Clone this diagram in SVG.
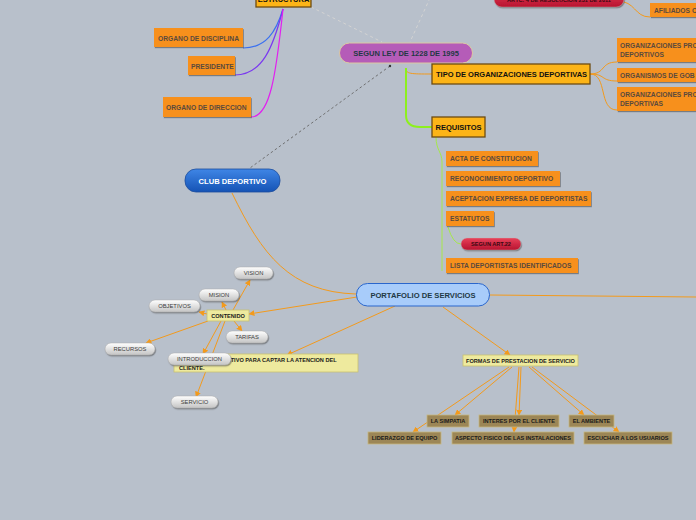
<svg xmlns="http://www.w3.org/2000/svg" width="696" height="520" viewBox="0 0 696 520">
<defs>
<linearGradient id="gGray" x1="0" y1="0" x2="0" y2="1"><stop offset="0" stop-color="#ffffff"/><stop offset="1" stop-color="#c4c4c4"/></linearGradient>
<linearGradient id="gRed" x1="0" y1="0" x2="0" y2="1"><stop offset="0" stop-color="#e8405a"/><stop offset="1" stop-color="#b8142f"/></linearGradient>
<linearGradient id="gBlue" x1="0" y1="0" x2="0" y2="1"><stop offset="0" stop-color="#3f86e6"/><stop offset="1" stop-color="#1553b5"/></linearGradient>
<filter id="sh" x="-10%" y="-20%" width="120%" height="150%"><feDropShadow dx="0.8" dy="1.2" stdDeviation="0.6" flood-color="#444" flood-opacity="0.55"/></filter>
<marker id="ar" viewBox="0 0 10 10" refX="9" refY="5" markerWidth="6" markerHeight="6" orient="auto" markerUnits="userSpaceOnUse"><path d="M0,0 L10,5 L0,10 z" fill="#f39a1c"/></marker>
<style>
text{font-family:"Liberation Sans",Arial,sans-serif;font-weight:bold}
.or rect{fill:#f7901f;filter:url(#sh)}
.or text{fill:#5a4a3e;font-size:6.7px}
.gold rect{fill:#fcb417;stroke:#6e4c12;stroke-width:1.3}
.gold text{fill:#111;font-size:7.5px}
.gr rect{fill:url(#gGray);stroke:#a8a8a8;stroke-width:0.5;filter:url(#sh)}
.gr text{fill:#3c3c3c;font-size:5.8px;font-weight:normal;text-anchor:middle}
.ye rect{fill:#eeea9e;stroke:#c9c070;stroke-width:0.8}
.ye text{fill:#1a1a1a;font-size:5.6px}
.br rect{fill:#9c8656;stroke:#c7b77f;stroke-width:0.8}
.br text{fill:#1a1a1a;font-size:5.6px;text-anchor:middle}
.rd rect{fill:url(#gRed);stroke:#c0b0b0;stroke-width:0.4;filter:url(#sh)}
.rd text{fill:#3a0810;font-size:5.6px;text-anchor:middle}
.ln{fill:none;stroke:#f39a1c;stroke-width:1}
.arw{fill:none;stroke:#f39a1c;stroke-width:1;marker-end:url(#ar)}
</style>
</defs>
<rect width="696" height="520" fill="#b8c0cb"/>

<g id="connectors">
<path d="M311,7 L382,42" stroke="#d3d3d3" stroke-width="1" stroke-dasharray="3,3" fill="none"/>
<path d="M430,-2 L410,42" stroke="#d3d3d3" stroke-width="1" stroke-dasharray="3,3" fill="none"/>
<path d="M390,66 L250,168" stroke="#666" stroke-width="0.9" stroke-dasharray="2.5,2.5" fill="none"/>
<circle cx="390" cy="66" r="1.2" fill="#333"/>
<path d="M283,9 C276,32 266,48 243,48" stroke="#3a70f0" stroke-width="1.2" fill="none"/>
<path d="M283,9 C273,48 262,75 235,75" stroke="#7a38f0" stroke-width="1.2" fill="none"/>
<path d="M283,9 C276,75 270,117 251,117" stroke="#e21ef0" stroke-width="1.2" fill="none"/>
<path d="M617,1 C636,1 634,17 650,17" class="ln"/>
<path d="M406,68 C406,74 410,74 432,74" class="ln"/>
<path d="M406,68 L406,115 Q406,127 420,127 L432,127" stroke="#8df01e" stroke-width="2" fill="none"/>
<path d="M590,74 C606,74 600,62 617,62" class="ln"/>
<path d="M590,74 C606,74 600,81 617,81" class="ln"/>
<path d="M590,74 C608,74 598,110 617,110" class="ln"/>
<path d="M436,137 C436,150 442,152 442,162 L442,271" stroke="#a6e84a" stroke-width="1" fill="none"/>
<path d="M448,227 Q453,244 461,244" stroke="#a6e84a" stroke-width="1" fill="none"/>
<path d="M232,193 C262,255 290,292 356,294" class="ln"/>
<path d="M490,295 L696,297" class="ln"/>
<path d="M357,297 L249,314" class="arw"/>
<path d="M395,306 L287,355" class="arw"/>
<path d="M443,307 L510,355" class="arw"/>
<path d="M233,310 L250,280" class="arw"/>
<path d="M226,310 L222,302" class="arw"/>
<path d="M207,314 L199,312" class="arw"/>
<path d="M234,321 L242,331" class="arw"/>
<path d="M208,321 L146,343" class="arw"/>
<path d="M221,321 L203,354" class="arw"/>
<path d="M225,321 L196,397" class="arw"/>
<path d="M512,367 L455,415" class="arw"/>
<path d="M509,367 L413,432" class="arw"/>
<path d="M521,367 L519,415" class="arw"/>
<path d="M519,367 L514,432" class="arw"/>
<path d="M529,367 L584,415" class="arw"/>
<path d="M532,367 L619,432" class="arw"/>
</g>

<g id="estructura" class="gold"><rect x="256" y="-10" width="55" height="17"/><text x="283.5" y="2" text-anchor="middle">ESTRUCTURA</text></g>
<g id="resolucion" class="rd"><rect x="494" y="-12" width="130" height="19" rx="8"/><text x="559" y="1.5">ARTC. 4 DE RESOLUCION 231 DE 2011</text></g>
<g id="afiliados" class="or"><rect x="650" y="3" width="60" height="14"/><text x="654" y="12.5">AFILIADOS C</text></g>

<g id="segunley"><rect x="339.5" y="43" width="133" height="20" rx="10" fill="#b55cb8" stroke="#dcc8a2" stroke-width="1"/><text x="406" y="56" text-anchor="middle" font-size="7.5" fill="#1f3944">SEGUN LEY DE 1228 DE 1995</text></g>

<g id="disciplina" class="or"><rect x="154" y="28" width="89" height="19"/><text x="158" y="40.5">ORGANO DE DISCIPLINA</text></g>
<g id="presidente" class="or"><rect x="188" y="56" width="47" height="19"/><text x="191" y="68.5">PRESIDENTE</text></g>
<g id="direccion" class="or"><rect x="163" y="97" width="88" height="20"/><text x="166" y="109.5">ORGANO DE DIRECCION</text></g>

<g id="tipo" class="gold"><rect x="432" y="64" width="158" height="20"/><text x="436" y="77">TIPO DE ORGANIZACIONES DEPORTIVAS</text></g>
<g id="org1" class="or"><rect x="617" y="38" width="90" height="24"/><text x="620" y="47.5">ORGANIZACIONES PRO</text><text x="620" y="57">DEPORTIVOS</text></g>
<g id="org2" class="or"><rect x="617" y="68" width="90" height="14"/><text x="620" y="77.5">ORGANISMOS DE GOB</text></g>
<g id="org3" class="or"><rect x="617" y="87" width="90" height="24"/><text x="620" y="96.5">ORGANIZACIONES PRO</text><text x="620" y="106">DEPORTIVAS</text></g>

<g id="requisitos" class="gold"><rect x="432" y="117" width="53" height="20"/><text x="435.5" y="130">REQUISITOS</text></g>
<g id="acta" class="or"><rect x="446" y="151" width="92" height="15"/><text x="450" y="161">ACTA DE CONSTITUCION</text></g>
<g id="reconocimiento" class="or"><rect x="446" y="171" width="114" height="15"/><text x="450" y="181">RECONOCIMIENTO DEPORTIVO</text></g>
<g id="aceptacion" class="or"><rect x="446" y="191" width="145" height="15"/><text x="450" y="201">ACEPTACION EXPRESA DE DEPORTISTAS</text></g>
<g id="estatutos" class="or"><rect x="446" y="211" width="48" height="15"/><text x="450" y="221">ESTATUTOS</text></g>
<g id="art22" class="rd"><rect x="461" y="238" width="60" height="12" rx="6"/><text x="491" y="246">SEGUN ART.22</text></g>
<g id="lista" class="or"><rect x="446" y="258" width="132" height="15"/><text x="450" y="268">LISTA DEPORTISTAS IDENTIFICADOS</text></g>

<g id="club"><rect x="185" y="169" width="95" height="23" rx="11" fill="url(#gBlue)" stroke="#1d4c9c" stroke-width="0.8"/><text x="232.5" y="183.5" text-anchor="middle" font-size="7.6" fill="#ffffff">CLUB DEPORTIVO</text></g>

<g id="portafolio"><rect x="356.5" y="283.5" width="133" height="22.5" rx="11" fill="#a8ccfa" stroke="#2a66cc" stroke-width="1"/><text x="423" y="297.5" text-anchor="middle" font-size="7.6" fill="#1f3944">PORTAFOLIO DE SERVICIOS</text></g>

<g id="vision" class="gr"><rect x="234" y="267" width="39" height="12" rx="6"/><text x="253.5" y="275.3">VISION</text></g>
<g id="mision" class="gr"><rect x="199" y="289" width="40" height="12" rx="6"/><text x="219" y="297.3">MISION</text></g>
<g id="objetivos" class="gr"><rect x="149" y="300" width="51" height="12" rx="6"/><text x="174.5" y="308.3">OBJETIVOS</text></g>
<g id="tarifas" class="gr"><rect x="226" y="331" width="42" height="12" rx="6"/><text x="247" y="339.3">TARIFAS</text></g>
<g id="recursos" class="gr"><rect x="105" y="343" width="50" height="12" rx="6"/><text x="130" y="351.3">RECURSOS</text></g>

<g id="elemento" class="ye"><rect x="174" y="354" width="184" height="18"/><text x="179" y="362">ELEMENTO LLAMATIVO PARA CAPTAR LA ATENCION DEL</text><text x="179" y="369.5">CLIENTE.</text></g>
<g id="introduccion" class="gr"><rect x="168" y="353" width="63" height="12" rx="6"/><text x="199.5" y="361.3">INTRODUCCION</text></g>
<g id="servicio" class="gr"><rect x="171" y="396" width="47" height="12" rx="6"/><text x="194.5" y="404.3">SERVICIO</text></g>

<g id="contenido" class="ye"><rect x="207" y="310" width="42" height="11"/><text x="228" y="317.8" text-anchor="middle">CONTENIDO</text></g>

<g id="formas" class="ye"><rect x="463" y="355" width="115" height="11"/><text x="520.5" y="362.8" text-anchor="middle">FORMAS DE PRESTACION DE SERVICIO</text></g>
<g id="simpatia" class="br"><rect x="427" y="415" width="42" height="12"/><text x="448" y="423">LA SIMPATIA</text></g>
<g id="interes" class="br"><rect x="479" y="415" width="80" height="12"/><text x="519" y="423">INTERES POR EL CLIENTE</text></g>
<g id="ambiente" class="br"><rect x="569" y="415" width="45" height="12"/><text x="591.5" y="423">EL AMBIENTE</text></g>
<g id="liderazgo" class="br"><rect x="368" y="432" width="73" height="12"/><text x="404.5" y="440">LIDERAZGO DE EQUIPO</text></g>
<g id="aspecto" class="br"><rect x="452" y="432" width="122" height="12"/><text x="513" y="440">ASPECTO FISICO DE LAS INSTALACIONES</text></g>
<g id="escuchar" class="br"><rect x="584" y="432" width="88" height="12"/><text x="628" y="440">ESCUCHAR A LOS USUARIOS</text></g>
</svg>
